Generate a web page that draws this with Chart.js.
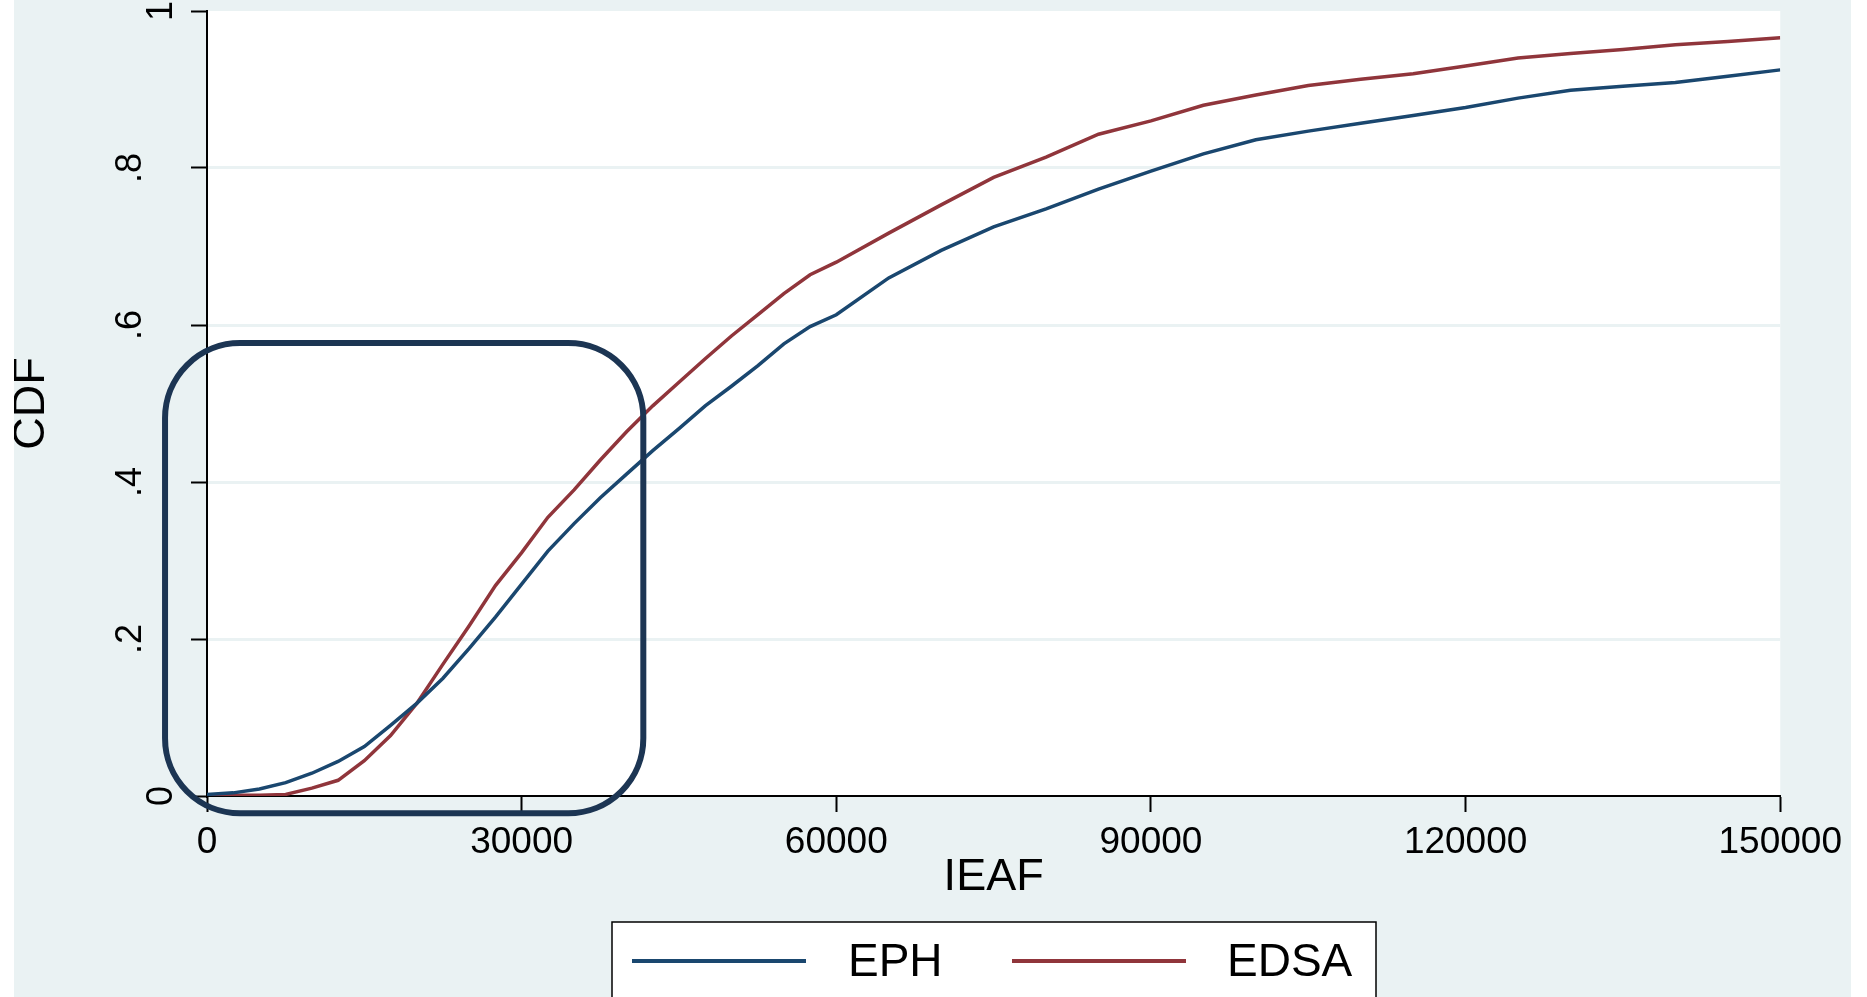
<!DOCTYPE html>
<html>
<head>
<meta charset="utf-8">
<script src="https://cdn.jsdelivr.net/npm/chart.js@4.4.1/dist/chart.umd.min.js"></script>
<style>
  html, body { margin: 0; padding: 0; background: #ffffff; }
  #wrap { position: absolute; left: 14px; top: 0; width: 1837px; height: 997px; }
</style>
</head>
<body>
<div id="wrap"><canvas id="myChart"></canvas></div>
<script>
// IEAF values where the two CDFs were read
const income = [0, 2500, 5000, 7500, 10000, 12500, 15000, 17500, 20000, 22500, 25000,
  27500, 30000, 32500, 35000, 37500, 40000, 42500, 45000, 47500, 50000, 52500, 55000,
  57500, 60000, 65000, 70000, 75000, 80000, 85000, 90000, 95000, 100000, 105000,
  110000, 115000, 120000, 125000, 130000, 135000, 140000, 145000, 150000];
const eph = [0.002, 0.004, 0.009, 0.017, 0.029, 0.044, 0.063, 0.09, 0.118, 0.15, 0.188,
  0.228, 0.27, 0.312, 0.347, 0.38, 0.41, 0.44, 0.468, 0.497, 0.522, 0.548, 0.576,
  0.598, 0.613, 0.66, 0.695, 0.725, 0.748, 0.773, 0.796, 0.818, 0.836, 0.847,
  0.857, 0.867, 0.877, 0.889, 0.899, 0.904, 0.909, 0.917, 0.925];
const edsa = [0, 0.001, 0.001, 0.002, 0.01, 0.02, 0.045, 0.077, 0.118, 0.168, 0.217,
  0.268, 0.31, 0.355, 0.39, 0.428, 0.464, 0.497, 0.527, 0.557, 0.586, 0.613, 0.64,
  0.664, 0.68, 0.717, 0.753, 0.788, 0.814, 0.843, 0.86, 0.88, 0.893, 0.905,
  0.913, 0.92, 0.93, 0.94, 0.946, 0.951, 0.957, 0.961, 0.966];
const seriesNames = ['EPH', 'EDSA'];
const xTickValues = [0, 30000, 60000, 90000, 120000, 150000];
const xTickLabels = ['0', '30000', '60000', '90000', '120000', '150000'];
const yTickValues = [0, 0.2, 0.4, 0.6, 0.8, 1];
const yTickLabels = ['0', '.2', '.4', '.6', '.8', '1'];

// highlight box drawn round the low-income region (data units)
const box = { xMin: -4000, xMax: 41600, yMin: -0.022, yMax: 0.577 };

const BG = '#eaf2f3';
const BLUE = '#1a476f';
const RED = '#90353b';
const FONT = '"Liberation Sans", Arial, sans-serif';

const stataPlugin = {
  id: 'stata',
  beforeDraw(chart) {
    const c = chart.ctx, a = chart.chartArea;
    c.save();
    c.fillStyle = BG;
    c.fillRect(0, 0, chart.width, chart.height);
    c.fillStyle = '#ffffff';
    c.fillRect(a.left, a.top, a.right - a.left, a.bottom - a.top);
    c.restore();
  },
  afterDraw(chart) {
    const c = chart.ctx, a = chart.chartArea;
    const xs = chart.scales.x, ys = chart.scales.y;
    c.save();
    // rotated y tick labels
    c.fillStyle = '#000';
    c.font = '36px ' + FONT;
    c.textAlign = 'center';
    c.textBaseline = 'alphabetic';
    yTickValues.forEach((v, i) => {
      const lbl = yTickLabels[i];
      const bx = a.left - 35 - (lbl.startsWith('.') ? 31 : 0);
      c.save();
      c.translate(bx, ys.getPixelForValue(v));
      c.rotate(-Math.PI / 2);
      c.fillText(lbl, 0, 0);
      c.restore();
    });
    // axis titles
    c.font = '45px ' + FONT;
    c.textBaseline = 'middle';
    c.fillText('IEAF', (a.left + a.right) / 2, 878);
    c.save();
    c.translate(18, (a.top + a.bottom) / 2);
    c.rotate(-Math.PI / 2);
    c.fillText('CDF', 0, 0);
    c.restore();

    // rounded highlight box
    const l = xs.getPixelForValue(box.xMin), r = xs.getPixelForValue(box.xMax);
    const t = ys.getPixelForValue(box.yMax), b = ys.getPixelForValue(box.yMin);
    c.strokeStyle = '#1c3553';
    c.lineWidth = 6;
    c.beginPath();
    c.roundRect(l, t, r - l, b - t, 75);
    c.stroke();

    // legend
    c.fillStyle = '#ffffff';
    c.fillRect(598, 922, 764, 100);
    c.strokeStyle = '#000';
    c.lineWidth = 1.5;
    c.strokeRect(598, 922, 764, 100);
    const items = [
      { color: BLUE, x: 618, tx: 834 },
      { color: RED, x: 998, tx: 1213 }
    ];
    c.textAlign = 'left';
    c.font = '46px ' + FONT;
    items.forEach((it, i) => {
      c.strokeStyle = it.color;
      c.lineWidth = 4;
      c.beginPath();
      c.moveTo(it.x, 961);
      c.lineTo(it.x + 174, 961);
      c.stroke();
      c.fillStyle = '#000';
      c.fillText(seriesNames[i], it.tx, 963);
    });
    c.restore();
  }
};

const ctx = document.getElementById('myChart');
const chart = new Chart(ctx, {
  type: 'line',
  data: {
    datasets: [
      {
        label: seriesNames[0],
        data: income.map((x, i) => ({ x: x, y: eph[i] })),
        borderColor: BLUE,
        borderWidth: 3.5,
        pointRadius: 0,
        tension: 0
      },
      {
        label: seriesNames[1],
        data: income.map((x, i) => ({ x: x, y: edsa[i] })),
        borderColor: RED,
        borderWidth: 3.5,
        pointRadius: 0,
        tension: 0
      }
    ]
  },
  options: {
    responsive: true,
    maintainAspectRatio: false,
    devicePixelRatio: 1,
    animation: false,
    layout: { padding: { left: 0, right: 70, top: 11, bottom: 0 } },
    scales: {
      x: {
        type: 'linear',
        min: 0,
        max: 150000,
        afterBuildTicks(scale) { scale.ticks = xTickValues.map(v => ({ value: v })); },
        afterFit(scale) { scale.height = 201; },
        ticks: {
          callback: (v) => xTickLabels[xTickValues.indexOf(v)],
          color: '#000',
          font: { family: FONT, size: 37 },
          padding: 9,
          maxRotation: 0,
          autoSkip: false
        },
        grid: { drawOnChartArea: false, tickLength: 16, tickColor: '#000', tickWidth: 2 },
        border: { color: '#000', width: 2 }
      },
      y: {
        min: 0,
        max: 1,
        afterBuildTicks(scale) { scale.ticks = yTickValues.map(v => ({ value: v })); },
        afterFit(scale) { scale.width = 193; },
        ticks: { display: false },
        grid: {
          color: (c) => (c.tick && (c.tick.value === 0 || c.tick.value === 1)) ? 'rgba(0,0,0,0)' : BG,
          lineWidth: 3,
          tickLength: 16,
          tickColor: '#000',
          tickWidth: 2
        },
        border: { color: '#000', width: 2 }
      }
    },
    plugins: {
      legend: { display: false },
      tooltip: { enabled: false }
    }
  },
  plugins: [stataPlugin]
});
</script>
</body>
</html>
